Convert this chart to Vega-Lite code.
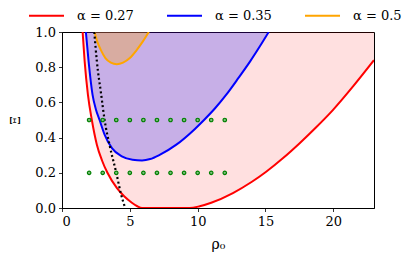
{
  "$schema": "https://vega.github.io/schema/vega-lite/v6.json",
  "width": 312,
  "height": 176,
  "autosize": {"type": "none"},
  "padding": {"left": 62, "top": 32, "right": 42, "bottom": 52},
  "background": "white",
  "config": {
    "view": {"stroke": "black", "strokeWidth": 1},
    "font": "DejaVu Serif",
    "axis": {
      "grid": false,
      "domainColor": "black",
      "tickColor": "black",
      "tickSize": 3.5,
      "tickWidth": 0.8,
      "labelFont": "DejaVu Serif",
      "labelFontSize": 13,
      "labelColor": "black",
      "titleFont": "DejaVu Serif",
      "titleFontWeight": "normal",
      "titleColor": "black"
    },
    "legend": {
      "labelFont": "DejaVu Serif",
      "labelFontSize": 13,
      "labelColor": "black"
    }
  },
  "datasets": {
    "curves": [
      {"s": "α = 0.27", "rho": 1.52, "xi": 1.0},
      {"s": "α = 0.27", "rho": 1.67, "xi": 0.833},
      {"s": "α = 0.27", "rho": 1.91, "xi": 0.644},
      {"s": "α = 0.27", "rho": 2.2, "xi": 0.5},
      {"s": "α = 0.27", "rho": 2.57, "xi": 0.36},
      {"s": "α = 0.27", "rho": 2.95, "xi": 0.27},
      {"s": "α = 0.27", "rho": 3.35, "xi": 0.2},
      {"s": "α = 0.27", "rho": 4.04, "xi": 0.114},
      {"s": "α = 0.27", "rho": 4.6, "xi": 0.065},
      {"s": "α = 0.27", "rho": 5.15, "xi": 0.03},
      {"s": "α = 0.27", "rho": 5.55, "xi": 0.01},
      {"s": "α = 0.27", "rho": 5.9, "xi": 0.0},
      {"s": "α = 0.27", "rho": 9.4, "xi": 0.0},
      {"s": "α = 0.27", "rho": 10.15, "xi": 0.01},
      {"s": "α = 0.27", "rho": 11.0, "xi": 0.03},
      {"s": "α = 0.27", "rho": 12.6, "xi": 0.085},
      {"s": "α = 0.27", "rho": 14.0, "xi": 0.149},
      {"s": "α = 0.27", "rho": 15.05, "xi": 0.206},
      {"s": "α = 0.27", "rho": 16.3, "xi": 0.284},
      {"s": "α = 0.27", "rho": 17.5, "xi": 0.367},
      {"s": "α = 0.27", "rho": 18.7, "xi": 0.456},
      {"s": "α = 0.27", "rho": 19.95, "xi": 0.555},
      {"s": "α = 0.27", "rho": 21.5, "xi": 0.695},
      {"s": "α = 0.27", "rho": 23.0, "xi": 0.84},
      {"s": "α = 0.35", "rho": 1.76, "xi": 1.0},
      {"s": "α = 0.35", "rho": 1.96, "xi": 0.833},
      {"s": "α = 0.35", "rho": 2.25, "xi": 0.644},
      {"s": "α = 0.35", "rho": 2.5, "xi": 0.56},
      {"s": "α = 0.35", "rho": 2.77, "xi": 0.5},
      {"s": "α = 0.35", "rho": 3.14, "xi": 0.417},
      {"s": "α = 0.35", "rho": 3.68, "xi": 0.34},
      {"s": "α = 0.35", "rho": 4.41, "xi": 0.293},
      {"s": "α = 0.35", "rho": 5.2, "xi": 0.274},
      {"s": "α = 0.35", "rho": 5.9, "xi": 0.27},
      {"s": "α = 0.35", "rho": 6.5, "xi": 0.278},
      {"s": "α = 0.35", "rho": 7.2, "xi": 0.302},
      {"s": "α = 0.35", "rho": 8.43, "xi": 0.36},
      {"s": "α = 0.35", "rho": 9.78, "xi": 0.448},
      {"s": "α = 0.35", "rho": 10.47, "xi": 0.5},
      {"s": "α = 0.35", "rho": 11.3, "xi": 0.568},
      {"s": "α = 0.35", "rho": 12.11, "xi": 0.644},
      {"s": "α = 0.35", "rho": 13.01, "xi": 0.739},
      {"s": "α = 0.35", "rho": 13.87, "xi": 0.833},
      {"s": "α = 0.35", "rho": 14.6, "xi": 0.92},
      {"s": "α = 0.35", "rho": 15.24, "xi": 1.0},
      {"s": "α = 0.5", "rho": 2.4, "xi": 1.0},
      {"s": "α = 0.5", "rho": 2.6, "xi": 0.945},
      {"s": "α = 0.5", "rho": 2.85, "xi": 0.9},
      {"s": "α = 0.5", "rho": 3.2, "xi": 0.852},
      {"s": "α = 0.5", "rho": 3.6, "xi": 0.826},
      {"s": "α = 0.5", "rho": 4.04, "xi": 0.817},
      {"s": "α = 0.5", "rho": 4.5, "xi": 0.826},
      {"s": "α = 0.5", "rho": 5.0, "xi": 0.852},
      {"s": "α = 0.5", "rho": 5.45, "xi": 0.892},
      {"s": "α = 0.5", "rho": 5.95, "xi": 0.945},
      {"s": "α = 0.5", "rho": 6.4, "xi": 1.0}
    ],
    "dotted": [
      {"rho": 2.38, "xi": 1.0},
      {"rho": 2.57, "xi": 0.833},
      {"rho": 2.89, "xi": 0.644},
      {"rho": 3.14, "xi": 0.5},
      {"rho": 3.5, "xi": 0.36},
      {"rho": 4.0, "xi": 0.2},
      {"rho": 4.36, "xi": 0.076},
      {"rho": 4.66, "xi": 0.0}
    ],
    "pts": [
      {"rho": 2, "xi": 0.5}, {"rho": 3, "xi": 0.5}, {"rho": 4, "xi": 0.5}, {"rho": 5, "xi": 0.5},
      {"rho": 6, "xi": 0.5}, {"rho": 7, "xi": 0.5}, {"rho": 8, "xi": 0.5}, {"rho": 9, "xi": 0.5},
      {"rho": 10, "xi": 0.5}, {"rho": 11, "xi": 0.5}, {"rho": 12, "xi": 0.5},
      {"rho": 2, "xi": 0.2}, {"rho": 3, "xi": 0.2}, {"rho": 4, "xi": 0.2}, {"rho": 5, "xi": 0.2},
      {"rho": 6, "xi": 0.2}, {"rho": 7, "xi": 0.2}, {"rho": 8, "xi": 0.2}, {"rho": 9, "xi": 0.2},
      {"rho": 10, "xi": 0.2}, {"rho": 11, "xi": 0.2}, {"rho": 12, "xi": 0.2}
    ]
  },
  "encoding": {
    "x": {
      "field": "rho", "type": "quantitative",
      "scale": {"domain": [0, 23], "nice": false, "zero": false},
      "axis": {"title": "ρ₀", "values": [0, 5, 10, 15, 20], "format": "d", "titleFontSize": 14, "titlePadding": 9, "labelPadding": 4}
    },
    "y": {
      "field": "xi", "type": "quantitative",
      "scale": {"domain": [0, 1], "nice": false},
      "axis": {"title": "Ξ", "values": [0, 0.2, 0.4, 0.6, 0.8, 1.0], "format": ".1f", "titleFontSize": 12, "titlePadding": 12, "labelPadding": 3}
    }
  },
  "layer": [
    {
      "data": {"name": "curves"},
      "transform": [{"filter": "datum.s === 'α = 0.27'"}],
      "mark": {"type": "area", "color": "#ff0000", "opacity": 0.12, "clip": true, "interpolate": "monotone"},
      "encoding": {"y2": {"datum": 1}}
    },
    {
      "data": {"name": "curves"},
      "transform": [{"filter": "datum.s === 'α = 0.35'"}],
      "mark": {"type": "area", "color": "#0000ff", "opacity": 0.22, "clip": true, "interpolate": "monotone"},
      "encoding": {"y2": {"datum": 1}}
    },
    {
      "data": {"name": "curves"},
      "transform": [{"filter": "datum.s === 'α = 0.5'"}],
      "mark": {"type": "area", "color": "#ffa500", "opacity": 0.3, "clip": true, "interpolate": "monotone"},
      "encoding": {"y2": {"datum": 1}}
    },
    {
      "data": {"name": "curves"},
      "mark": {"type": "line", "strokeWidth": 2, "clip": true, "interpolate": "monotone"},
      "encoding": {
        "color": {
          "field": "s", "type": "nominal",
          "scale": {"domain": ["α = 0.27", "α = 0.35", "α = 0.5"], "range": ["#ff0000", "#0000ff", "#ffa500"]},
          "legend": {
            "title": null,
            "orient": "none",
            "direction": "horizontal",
            "legendX": -34,
            "legendY": -35,
            "symbolType": "stroke",
            "symbolSize": 1225,
            "symbolStrokeWidth": 2,
            "labelOffset": 12,
            "columnPadding": 29
          }
        }
      }
    },
    {
      "data": {"name": "dotted"},
      "mark": {"type": "line", "color": "black", "strokeWidth": 2.2, "strokeDash": [2, 2.6], "clip": true, "interpolate": "monotone"},
      "encoding": {}
    },
    {
      "data": {"name": "pts"},
      "mark": {"type": "point", "shape": "circle", "filled": false, "stroke": "#008000", "fill": "#7fbf7f", "fillOpacity": 1, "strokeWidth": 1.2, "size": 12}
    }
  ]
}
